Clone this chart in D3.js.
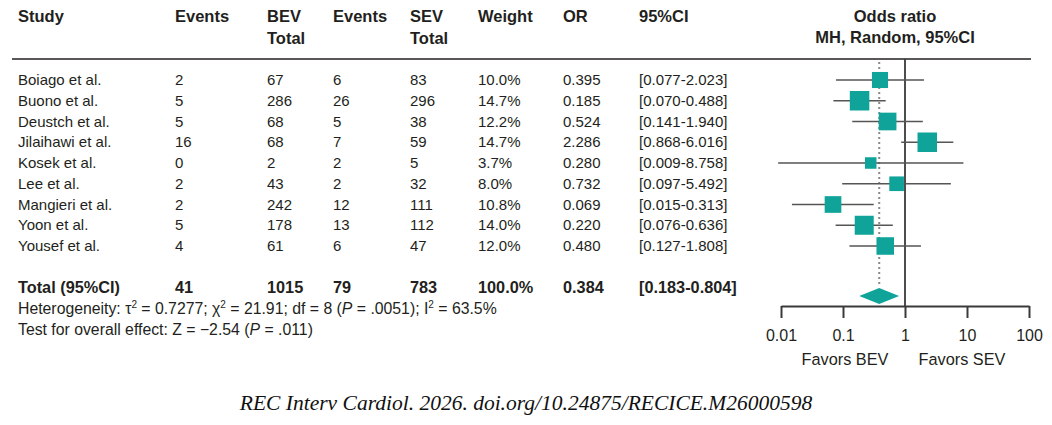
<!DOCTYPE html>
<html>
<head>
<meta charset="utf-8">
<script src="https://cdn.jsdelivr.net/npm/d3@7"></script>
<style>
  body { margin: 0; background: #fff; }
  svg { display: block; }
</style>
</head>
<body>
<svg></svg>
<script>
// study rows
const studies = ["Boiago et al.", "Buono et al.", "Deustch et al.", "Jilaihawi et al.", "Kosek et al.", "Lee et al.", "Mangieri et al.", "Yoon et al.", "Yousef et al."];
const bevEvents = [2, 5, 5, 16, 0, 2, 2, 5, 4];
const bevTotal = [67, 286, 68, 68, 2, 43, 242, 178, 61];
const sevEvents = [6, 26, 5, 7, 2, 2, 12, 13, 6];
const sevTotal = [83, 296, 38, 59, 5, 32, 111, 112, 47];
const weights = [10.0, 14.7, 12.2, 14.7, 3.7, 8.0, 10.8, 14.0, 12.0];
const orValues = [0.395, 0.185, 0.524, 2.286, 0.280, 0.732, 0.069, 0.220, 0.480];
const ciLow = [0.077, 0.070, 0.141, 0.868, 0.009, 0.097, 0.015, 0.076, 0.127];
const ciHigh = [2.023, 0.488, 1.940, 6.016, 8.758, 5.492, 0.313, 0.636, 1.808];

// pooled result
const total = { label: "Total (95%CI)", bevEvents: 41, bevTotal: 1015, sevEvents: 79, sevTotal: 783, weight: 100.0, or: 0.384, low: 0.183, high: 0.804 };

const headers = [["Study"], ["Events"], ["BEV", "Total"], ["Events"], ["SEV", "Total"], ["Weight"], ["OR"], ["95%CI"]];
const axisTicks = [0.01, 0.1, 1, 10, 100];

var svgWidth = 1052, svgHeight = 425;
var ink = "#231f20", teal = "#0fa39a", whisker = "#555";
var sans = "'Liberation Sans', Arial, sans-serif";

var svg = d3.select("svg")
    .attr("width", svgWidth)
    .attr("height", svgHeight);

// table columns
var colX = [18, 175, 267, 333, 410, 478, 563, 639];

var y = d3.scaleLinear().domain([0, studies.length - 1]).range([80, 246]);
var totalY = 287;

//forest x scale
var x = d3.scaleLog().domain([0.01, 100]).range([781, 1029]);

var size = d3.scaleLinear().domain([3.7, 14.7]).range([11.5, 19.5]);

var fmt3 = d3.format(".3f"), fmtPct = d => d3.format(".1f")(d) + "%";

//headers
var head = svg.append("g")
    .attr("font-family", sans)
    .attr("font-weight", "bold")
    .attr("font-size", 16.5)
    .attr("fill", ink);

headers.forEach((h, i) => {
    h.forEach((t, j) => {
        head.append("text")
            .attr("x", colX[i])
            .attr("y", 22 + j * 22)
            .text(t);
    });
});

head.append("text")
    .attr("x", x(1) - 10)
    .attr("y", 22)
    .attr("text-anchor", "middle")
    .text("Odds ratio");
head.append("text")
    .attr("x", x(1) - 10)
    .attr("y", 43)
    .attr("text-anchor", "middle")
    .text("MH, Random, 95%CI");

svg.append("line")
    .attr("x1", 12).attr("x2", 1031)
    .attr("y1", 59).attr("y2", 59)
    .attr("stroke", ink)
    .attr("stroke-width", 1.6);

//table body
var rows = svg.append("g")
    .attr("font-family", sans)
    .attr("font-size", 15)
    .attr("fill", ink)
    .selectAll("g")
    .data(studies)
    .enter()
    .append("g")
    .attr("transform", (d, i) => "translate(0," + (y(i) + 5) + ")");

rows.each(function(d, i) {
    var cells = [d, bevEvents[i], bevTotal[i], sevEvents[i], sevTotal[i], fmtPct(weights[i]), fmt3(orValues[i]), "[" + fmt3(ciLow[i]) + "-" + fmt3(ciHigh[i]) + "]"];
    d3.select(this).selectAll("text")
        .data(cells)
        .enter()
        .append("text")
        .attr("x", (c, k) => colX[k])
        .text(c => c);
});

//total row
var totalCells = [total.label, total.bevEvents, total.bevTotal, total.sevEvents, total.sevTotal, fmtPct(total.weight), fmt3(total.or), "[" + fmt3(total.low) + "-" + fmt3(total.high) + "]"];
svg.append("g")
    .attr("font-family", sans)
    .attr("font-weight", "bold")
    .attr("font-size", 16.3)
    .attr("fill", ink)
    .selectAll("text")
    .data(totalCells)
    .enter()
    .append("text")
    .attr("x", (c, k) => colX[k])
    .attr("y", totalY + 6)
    .text(c => c);

//heterogeneity + overall effect
var notes = svg.append("g")
    .attr("font-family", sans)
    .attr("font-size", 15.8)
    .attr("fill", ink);

var het = notes.append("text").attr("x", 18).attr("y", 314);
het.append("tspan").text("Heterogeneity: τ");
het.append("tspan").attr("font-size", 10).attr("dy", -6).text("2");
het.append("tspan").attr("dy", 6).text(" = 0.7277; χ");
het.append("tspan").attr("font-size", 10).attr("dy", -6).text("2");
het.append("tspan").attr("dy", 6).text(" = 21.91; df = 8 (");
het.append("tspan").attr("font-style", "italic").text("P");
het.append("tspan").text(" = .0051); I");
het.append("tspan").attr("font-size", 10).attr("dy", -6).text("2");
het.append("tspan").attr("dy", 6).text(" = 63.5%");

var eff = notes.append("text").attr("x", 18).attr("y", 335);
eff.append("tspan").text("Test for overall effect: Z = −2.54 (");
eff.append("tspan").attr("font-style", "italic").text("P");
eff.append("tspan").text(" = .011)");

//forest plot
var plot = svg.append("g");

plot.append("line")
    .attr("x1", x(total.or)).attr("x2", x(total.or))
    .attr("y1", 62).attr("y2", totalY)
    .attr("stroke", "#8a8a8a")
    .attr("stroke-width", 2)
    .attr("stroke-dasharray", "2,3");

plot.append("line")
    .attr("x1", x(1)).attr("x2", x(1))
    .attr("y1", 59).attr("y2", 306)
    .attr("stroke", "#3a3a3a")
    .attr("stroke-width", 1.8);

plot.selectAll(".ci")
    .data(studies)
    .enter()
    .append("line")
    .attr("class", "ci")
    .attr("x1", (d, i) => x(ciLow[i]))
    .attr("x2", (d, i) => x(ciHigh[i]))
    .attr("y1", (d, i) => y(i))
    .attr("y2", (d, i) => y(i))
    .attr("stroke", whisker)
    .attr("stroke-width", 1.6);

plot.selectAll(".box")
    .data(studies)
    .enter()
    .append("rect")
    .attr("class", "box")
    .attr("x", (d, i) => x(orValues[i]) - size(weights[i]) / 2)
    .attr("y", (d, i) => y(i) - size(weights[i]) / 2)
    .attr("width", (d, i) => size(weights[i]))
    .attr("height", (d, i) => size(weights[i]))
    .attr("fill", teal);

var dy = 296;
plot.append("path")
    .attr("d", d3.line()([[x(total.low), dy], [x(total.or), dy - 8], [x(total.high), dy], [x(total.or), dy + 8]]) + "Z")
    .attr("fill", teal);

//axis
var xAxis = d3.axisBottom(x)
    .tickValues(axisTicks)
    .tickFormat(d => d)
    .tickSize(12)
    .tickSizeOuter(0)
    .tickPadding(12);

var ax = svg.append("g")
    .attr("transform", "translate(0,306)")
    .call(xAxis);

ax.selectAll(".domain, .tick line")
    .attr("stroke", "#3a3a3a")
    .attr("stroke-width", 2);

ax.selectAll(".tick text")
    .attr("font-family", sans)
    .attr("font-size", 16)
    .attr("fill", ink);

svg.append("g")
    .attr("font-family", sans)
    .attr("font-size", 16.3)
    .attr("fill", ink)
    .attr("text-anchor", "middle")
    .selectAll("text")
    .data([["Favors BEV", x(0.1) + 2], ["Favors SEV", x(10) - 5]])
    .enter()
    .append("text")
    .attr("x", d => d[1])
    .attr("y", 365)
    .text(d => d[0]);

//citation
svg.append("text")
    .attr("x", 526)
    .attr("y", 410)
    .attr("text-anchor", "middle")
    .attr("font-family", "'Liberation Serif', 'DejaVu Serif', serif")
    .attr("font-style", "italic")
    .attr("font-size", 21.5)
    .attr("fill", "#111")
    .text("REC Interv Cardiol. 2026. doi.org/10.24875/RECICE.M26000598");
</script>
</body>
</html>
